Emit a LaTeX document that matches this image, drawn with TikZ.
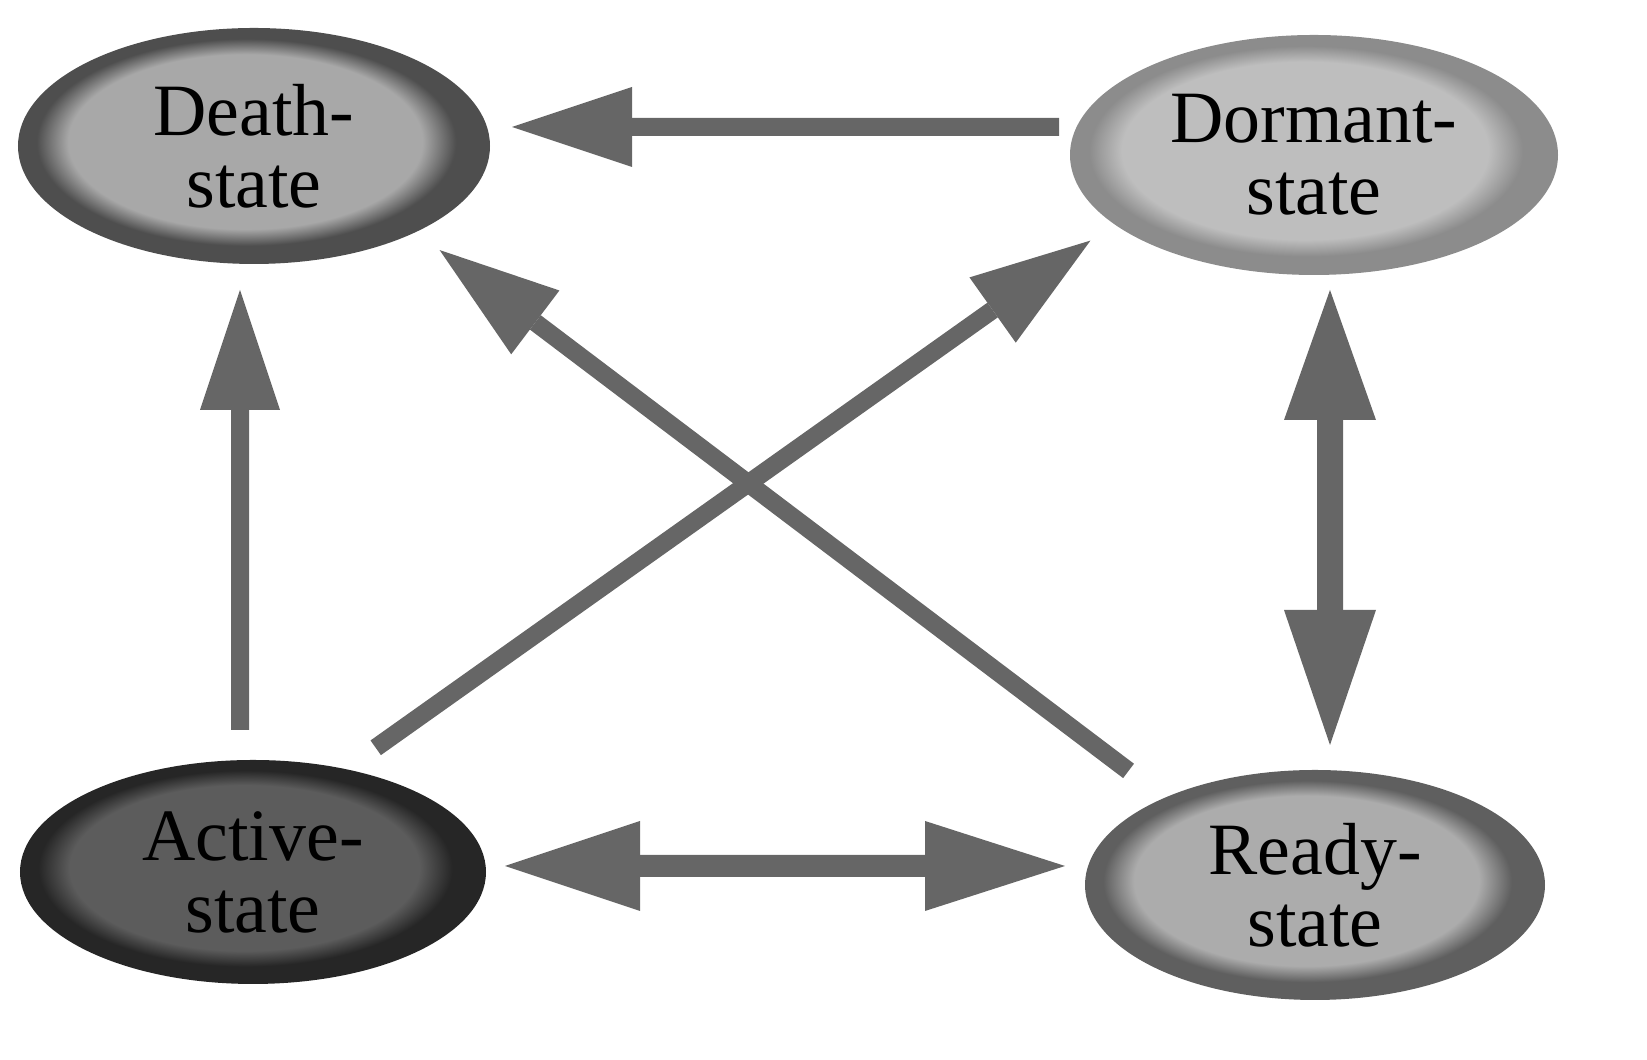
\documentclass[tikz,border=0pt]{standalone}
\usepackage{fontspec}
\setmainfont{Liberation Serif}
\usetikzlibrary{arrows.meta,shapes.geometric}

\definecolor{arrowgray}{RGB}{102,102,102}
\definecolor{deathring}{RGB}{78,78,78}
\definecolor{deathfill}{RGB}{168,168,168}
\definecolor{dormantring}{RGB}{140,140,140}
\definecolor{dormantfill}{RGB}{190,190,190}
\definecolor{activering}{RGB}{38,38,38}
\definecolor{activefill}{RGB}{92,92,92}
\definecolor{readyring}{RGB}{95,95,95}
\definecolor{readyfill}{RGB}{172,172,172}
\colorlet{ringc}{black}
\colorlet{innerc}{white}

\pgfdeclareradialshading[ringc,innerc]{statebody}{\pgfpoint{-1.5bp}{1.5bp}}{%
	color(0bp)=(innerc); color(19bp)=(innerc); color(22.5bp)=(ringc);
	color(25bp)=(ringc); color(50bp)=(ringc)}

\tikzset{
	state/.style 2 args={ellipse, /utils/exec={\colorlet{ringc}{#1}\colorlet{innerc}{#2}},
		shade, shading=statebody, draw=#1, line width=0.6mm, inner sep=0pt,
		align=center, font=\fontsize{21pt}{20.5pt}\selectfont},
	flow/.style={draw=arrowgray, line width=1.8mm,
		-{Triangle[length=1.2cm, width=0.8cm, line width=0pt]}},
}

\begin{document}
\begin{tikzpicture}
				\useasboundingbox (0,0) rectangle (16.47,10.6);

				\node[state={deathring}{deathfill}, minimum width=4.66cm, minimum height=2.3cm] (death) at (2.54,9.14) {Death-\\state};
				\node[state={dormantring}{dormantfill}, minimum width=4.82cm, minimum height=2.34cm] (dormant) at (13.14,9.05) {Dormant-\\state};
				\node[state={activering}{activefill}, minimum width=4.6cm, minimum height=2.18cm] (active) at (2.53,1.88) {Active-\\state};
				\node[state={readyring}{readyfill}, minimum width=4.54cm, minimum height=2.24cm] (ready) at (13.15,1.75) {Ready-\\state};

				\draw[flow, shorten <=0.11cm, shorten >=0.22cm] ([yshift=2.8mm]dormant.west) -- ([yshift=1.9mm]death.east);
				\draw[flow, shorten <=0.3cm, shorten >=0.26cm] ([xshift=-1.3mm]active.north) -- ([xshift=-1.4mm]death.south);
				\draw[flow, shorten <=0.37cm, shorten >=0.29cm] (active.48) -- (dormant.199);
				\draw[flow, shorten <=0.45cm, shorten >=0.30cm] (ready.150) -- (death.-28);

				\draw[flow, line width=2.6mm,
					{Triangle[length=1.3cm, width=0.92cm, line width=0pt]}-{Triangle[length=1.35cm, width=0.92cm, line width=0pt]},
					shorten <=0.15cm, shorten >=0.25cm]
				([xshift=1.6mm]dormant.south) -- ([xshift=1.5mm]ready.north);

				\draw[flow, line width=2.2mm,
					{Triangle[length=1.35cm, width=0.9cm, line width=0pt]}-{Triangle[length=1.4cm, width=0.9cm, line width=0pt]},
					shorten <=0.19cm, shorten >=0.2cm]
				([yshift=0.6mm]active.east) -- ([yshift=1.9mm]ready.west);
			\end{tikzpicture}
\end{document}
